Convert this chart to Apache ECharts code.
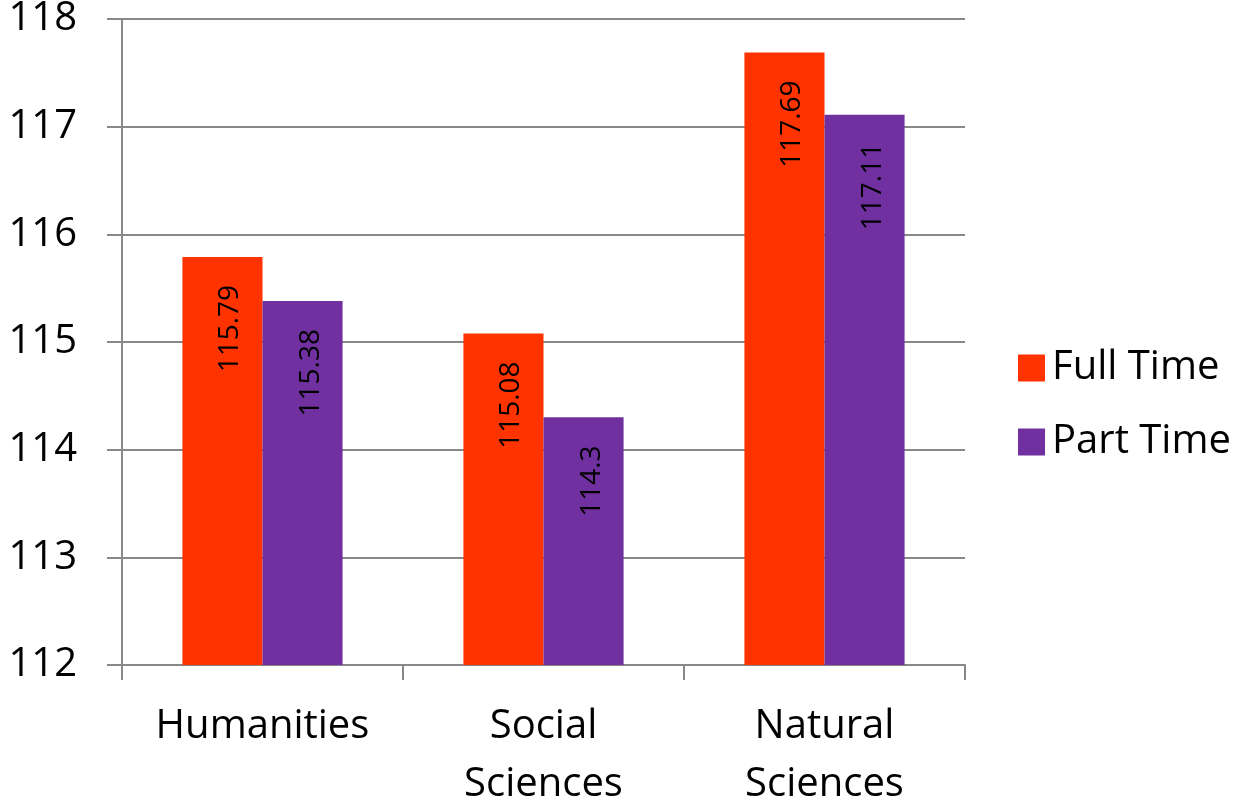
<!DOCTYPE html>
<html><head><meta charset="utf-8">
<script src="https://cdn.jsdelivr.net/npm/echarts@6/dist/echarts.min.js"></script>
<style>html,body{margin:0;padding:0;background:#fff}#c{width:1238px;height:806px}</style>
</head><body><div id="c"></div>
<script>
var categories = ['Humanities', 'Social\nSciences', 'Natural\nSciences'];
var fullTime = [115.79, 115.08, 117.69];
var partTime = [115.38, 114.3, 117.11];
var seriesNames = ['Full Time', 'Part Time'];
var yMin = 112, yMax = 118, yStep = 1;

var FONT = 'Open Sans';
var chart = echarts.init(document.getElementById('c'));
function lbl() {
  return {
    show: true, position: 'insideTop', rotate: 90, align: 'right', verticalAlign: 'middle',
    distance: 28, offset: [0, 8], color: '#000', fontFamily: FONT, fontSize: 28,
    formatter: function (p) { return String(p.value); }
  };
}
chart.setOption({
  animation: false,
  textStyle: { fontFamily: FONT },
  grid: { left: 122, right: 273, top: 19, bottom: 141, containLabel: false, outerBoundsMode: 'none' },
  legend: {
    orient: 'vertical', left: 1013, top: 343, itemWidth: 27, itemHeight: 27, itemGap: 34,
    icon: 'rect',
    textStyle: { fontFamily: FONT, fontSize: 40, color: '#000', lineHeight: 40, padding: [0, 0, 0, 2] },
    data: seriesNames
  },
  xAxis: {
    type: 'category', data: categories,
    axisLine: { lineStyle: { color: '#888', width: 2 } },
    axisTick: { show: true, length: 15, lineStyle: { color: '#888', width: 2 } },
    axisLabel: { color: '#000', fontFamily: FONT, fontSize: 40, lineHeight: 58, margin: 33, interval: 0 }
  },
  yAxis: {
    type: 'value', min: yMin, max: yMax, interval: yStep,
    axisLine: { show: true, lineStyle: { color: '#888', width: 2 } },
    axisTick: { show: true, length: 15, lineStyle: { color: '#888', width: 2 } },
    splitLine: { lineStyle: { color: '#888', width: 2 } },
    axisLabel: { color: '#000', fontFamily: FONT, fontSize: 40, margin: 45 }
  },
  series: [
    { name: seriesNames[0], type: 'bar', data: fullTime, barGap: '0%', barCategoryGap: '43%',
      itemStyle: { color: '#FF3300' }, label: lbl() },
    { name: seriesNames[1], type: 'bar', data: partTime, barGap: '0%', barCategoryGap: '43%',
      itemStyle: { color: '#7030A0' }, label: lbl() }
  ]
});
</script></body></html>
